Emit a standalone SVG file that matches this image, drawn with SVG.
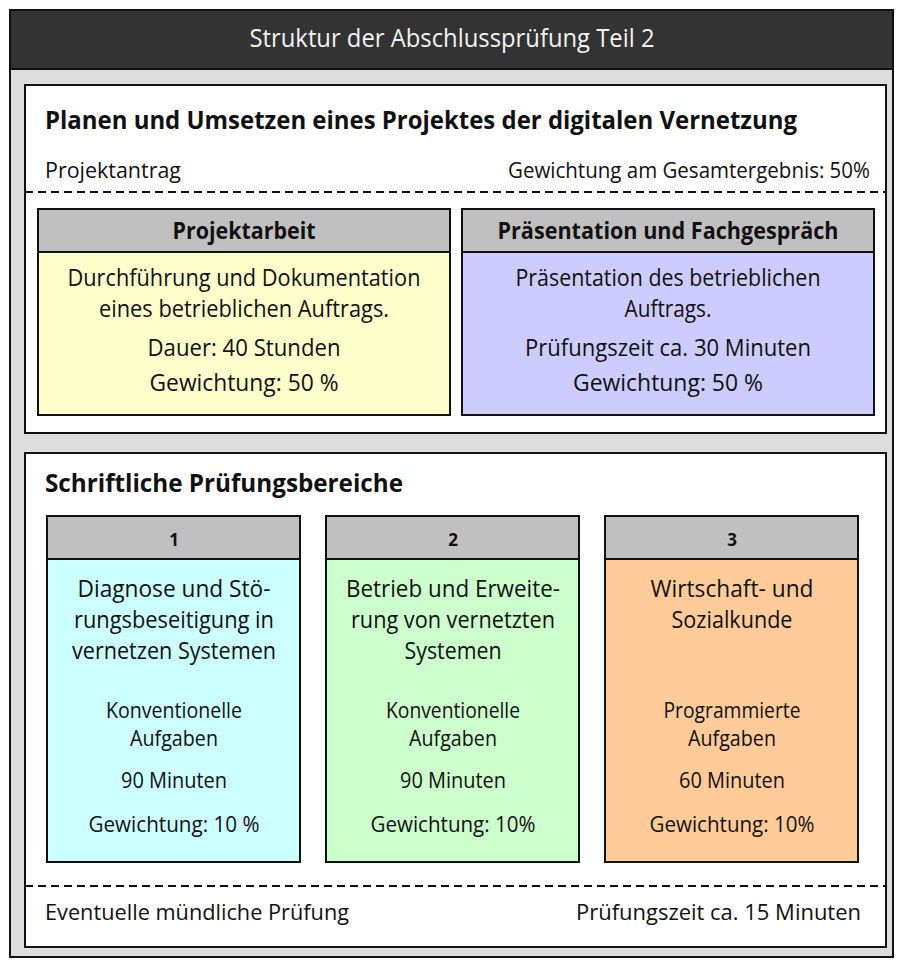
<svg xmlns="http://www.w3.org/2000/svg" width="903" height="967" viewBox="0 0 903 967">
<style>
text{font-family:"Open Sans","Liberation Sans",sans-serif;fill:#111;}
.t{font-size:24px;text-anchor:middle;}
.s{font-size:21px;text-anchor:middle;}
.n{font-size:17px;font-weight:bold;text-anchor:middle;}
.b{font-weight:bold;}
.h{font-size:25px;font-weight:bold;}
.l{font-size:21.5px;}
.box{stroke:#111;stroke-width:2;}
.hd{fill:#c0c0c0;stroke:#111;stroke-width:2;}
.pnl{fill:#fff;stroke:#111;stroke-width:2;}
.dash{stroke:#111;stroke-width:2;stroke-dasharray:8,5;fill:none;}
</style>
<g id="frame">
<rect x="10" y="10" width="883" height="947" fill="#dddddd" stroke="#111" stroke-width="2"/>
<rect x="10" y="10" width="883" height="59" fill="#333333" stroke="#111" stroke-width="2"/>
<text x="452" y="47" class="t" style="fill:#f2f2f2;font-size:25px" textLength="405" lengthAdjust="spacingAndGlyphs">Struktur der Abschlussprüfung Teil 2</text>
</g>
<g id="panel1">
<rect x="25" y="85" width="861" height="348" class="pnl"/>
<text x="45" y="129" class="h" textLength="752" lengthAdjust="spacingAndGlyphs">Planen und Umsetzen eines Projektes der digitalen Vernetzung</text>
<text x="45" y="178" class="l" textLength="136" lengthAdjust="spacingAndGlyphs">Projektantrag</text>
<text x="508" y="178" class="l" textLength="362" lengthAdjust="spacingAndGlyphs">Gewichtung am Gesamtergebnis: 50%</text>
<line x1="25" y1="192" x2="886" y2="192" class="dash"/>
</g>
<g id="projektarbeit">
<rect x="38" y="209" width="412" height="206" fill="#ffffcc" class="box"/>
<rect x="38" y="209" width="412" height="43" class="hd"/>
<text x="244" y="239" class="t b" textLength="143" lengthAdjust="spacingAndGlyphs">Projektarbeit</text>
<text x="244" y="286" class="t" textLength="353" lengthAdjust="spacingAndGlyphs">Durchführung und Dokumentation</text>
<text x="244" y="317" class="t" textLength="290" lengthAdjust="spacingAndGlyphs">eines betrieblichen Auftrags.</text>
<text x="244" y="356" class="t" textLength="193" lengthAdjust="spacingAndGlyphs">Dauer: 40 Stunden</text>
<text x="244" y="391" class="t" textLength="189" lengthAdjust="spacingAndGlyphs">Gewichtung: 50 %</text>
</g>
<g id="praesentation">
<rect x="462" y="209" width="412" height="206" fill="#ccccff" class="box"/>
<rect x="462" y="209" width="412" height="43" class="hd"/>
<text x="668" y="239" class="t b" textLength="341" lengthAdjust="spacingAndGlyphs">Präsentation und Fachgespräch</text>
<text x="668" y="286" class="t" textLength="305" lengthAdjust="spacingAndGlyphs">Präsentation des betrieblichen</text>
<text x="668" y="317" class="t" textLength="87" lengthAdjust="spacingAndGlyphs">Auftrags.</text>
<text x="668" y="356" class="t" textLength="286" lengthAdjust="spacingAndGlyphs">Prüfungszeit ca. 30 Minuten</text>
<text x="668" y="391" class="t" textLength="190" lengthAdjust="spacingAndGlyphs">Gewichtung: 50 %</text>
</g>
<g id="panel2">
<rect x="25" y="453" width="861" height="494" class="pnl"/>
<text x="45" y="492" class="h" textLength="358" lengthAdjust="spacingAndGlyphs">Schriftliche Prüfungsbereiche</text>
<line x1="25" y1="886" x2="886" y2="886" class="dash"/>
<text x="45" y="920" class="l" textLength="304" lengthAdjust="spacingAndGlyphs">Eventuelle mündliche Prüfung</text>
<text x="576" y="920" class="l" textLength="285" lengthAdjust="spacingAndGlyphs">Prüfungszeit ca. 15 Minuten</text>
</g>
<g id="bereich1">
<rect x="47" y="516" width="253" height="346" fill="#ccffff" class="box"/>
<rect x="47" y="516" width="253" height="43" class="hd"/>
<text x="174" y="546" class="n">1</text>
<text x="174" y="597" class="t" textLength="193" lengthAdjust="spacingAndGlyphs">Diagnose und Stö-</text>
<text x="174" y="628" class="t" textLength="200" lengthAdjust="spacingAndGlyphs">rungsbeseitigung in</text>
<text x="174" y="659" class="t" textLength="204" lengthAdjust="spacingAndGlyphs">vernetzen Systemen</text>
<text x="174" y="718" class="s" textLength="136" lengthAdjust="spacingAndGlyphs">Konventionelle</text>
<text x="174" y="746" class="s" textLength="88" lengthAdjust="spacingAndGlyphs">Aufgaben</text>
<text x="174" y="788" class="s" textLength="106" lengthAdjust="spacingAndGlyphs">90 Minuten</text>
<text x="174" y="832" class="s" textLength="171" lengthAdjust="spacingAndGlyphs">Gewichtung: 10 %</text>
</g>
<g id="bereich2">
<rect x="326" y="516" width="253" height="346" fill="#ccffcc" class="box"/>
<rect x="326" y="516" width="253" height="43" class="hd"/>
<text x="453" y="546" class="n">2</text>
<text x="453" y="597" class="t" textLength="214" lengthAdjust="spacingAndGlyphs">Betrieb und Erweite-</text>
<text x="453" y="628" class="t" textLength="204" lengthAdjust="spacingAndGlyphs">rung von vernetzten</text>
<text x="453" y="659" class="t" textLength="97" lengthAdjust="spacingAndGlyphs">Systemen</text>
<text x="453" y="718" class="s" textLength="134" lengthAdjust="spacingAndGlyphs">Konventionelle</text>
<text x="453" y="746" class="s" textLength="88" lengthAdjust="spacingAndGlyphs">Aufgaben</text>
<text x="453" y="788" class="s" textLength="106" lengthAdjust="spacingAndGlyphs">90 Minuten</text>
<text x="453" y="832" class="s" textLength="165" lengthAdjust="spacingAndGlyphs">Gewichtung: 10%</text>
</g>
<g id="bereich3">
<rect x="605" y="516" width="253" height="346" fill="#ffcc99" class="box"/>
<rect x="605" y="516" width="253" height="43" class="hd"/>
<text x="732" y="546" class="n">3</text>
<text x="732" y="597" class="t" textLength="163" lengthAdjust="spacingAndGlyphs">Wirtschaft- und</text>
<text x="732" y="628" class="t" textLength="121" lengthAdjust="spacingAndGlyphs">Sozialkunde</text>
<text x="732" y="718" class="s" textLength="137" lengthAdjust="spacingAndGlyphs">Programmierte</text>
<text x="732" y="746" class="s" textLength="88" lengthAdjust="spacingAndGlyphs">Aufgaben</text>
<text x="732" y="788" class="s" textLength="106" lengthAdjust="spacingAndGlyphs">60 Minuten</text>
<text x="732" y="832" class="s" textLength="165" lengthAdjust="spacingAndGlyphs">Gewichtung: 10%</text>
</g>
</svg>
